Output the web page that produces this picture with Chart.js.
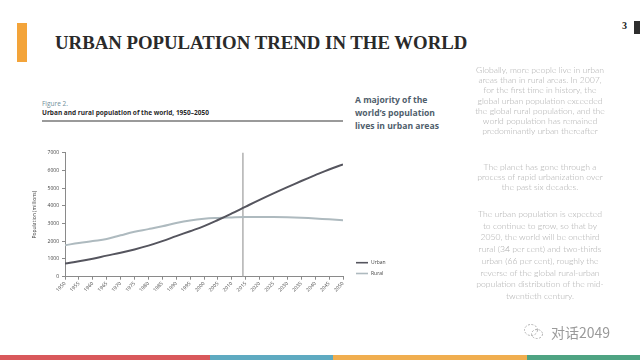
<!DOCTYPE html>
<html>
<head>
<meta charset="utf-8">
<script src="https://cdn.jsdelivr.net/npm/chart.js@4/dist/chart.umd.min.js"></script>
<style>
  html,body{margin:0;padding:0;background:#fff;}
  #page{position:relative;width:640px;height:360px;overflow:hidden;background:#fff;font-family:"Open Sans","Noto Sans",sans-serif;}
  .abs{position:absolute;white-space:nowrap;}
  #chart{position:absolute;left:0;top:0;}
  .para{position:absolute;left:460px;width:160px;text-align:center;color:#adadad;font-family:"Lato","DejaVu Sans",sans-serif;font-weight:300;font-size:8.6px;}
</style>
</head>
<body>
<div id="page">
  <div class="abs" style="left:17px;top:23px;width:10px;height:39px;background:#f3a43a;"></div>
  <div class="abs" id="title" style="left:55px;top:33px;font-family:'Liberation Serif','Times New Roman',serif;font-weight:bold;font-size:18.8px;line-height:20px;color:#2a2a2a;">URBAN POPULATION TREND IN THE WORLD</div>
  <div class="abs" style="left:622px;top:20px;font-family:'Liberation Serif',serif;font-weight:bold;font-size:10px;line-height:12px;color:#222;">3</div>
  <div class="abs" style="left:634px;top:21px;width:6px;height:13px;background:#2e2e2e;"></div>

  <div class="abs" style="left:42px;top:100px;font-size:6.5px;line-height:8px;color:#6f8e99;">Figure 2.</div>
  <div class="abs" style="left:42px;top:109px;font-size:6.5px;line-height:8px;font-weight:bold;color:#2a2a2a;">Urban and rural population of the world, 1950–2050</div>
  <div class="abs" style="left:42px;top:120px;width:301px;height:2px;background:#9a9a9a;"></div>

  <div class="abs" style="left:355px;top:94px;font-size:8.6px;line-height:12.8px;font-weight:bold;color:#4f5e6c;">A majority of the<br>world’s population<br>lives in urban areas</div>

  <canvas id="chart" width="640" height="360"></canvas>

  <div class="para" style="top:65px;line-height:10.2px;">Globally, more people live in urban<br>areas than in rural areas. In 2007,<br>for the first time in history, the<br>global urban population exceeded<br>the global rural population, and the<br>world population has remained<br>predominantly urban thereafter</div>
  <div class="para" style="top:162px;line-height:10.2px;">The planet has gone through a<br>process of rapid urbanization over<br>the past six decades.</div>
  <div class="para" style="top:209px;line-height:11.7px;">The urban population is expected<br>to continue to grow, so that by<br>2050, the world will be onethird<br>rural (34 per cent) and two-thirds<br>urban (66 per cent), roughly the<br>reverse of the global rural-urban<br>population distribution of the mid-<br>twentieth century.</div>

  <svg class="abs" style="left:523px;top:322px;" width="22" height="20" viewBox="0 0 22 20">
    <ellipse cx="8" cy="8" rx="6.5" ry="5.5" fill="none" stroke="#b0b0b0" stroke-width="1" stroke-dasharray="2 1.5"/>
    <ellipse cx="14" cy="12" rx="5.5" ry="4.5" fill="none" stroke="#b0b0b0" stroke-width="1" stroke-dasharray="2 1.5"/>
  </svg>
  <div class="abs" style="left:551px;top:323px;font-family:'Noto Sans CJK SC',sans-serif;font-size:14px;line-height:18px;color:#9a9a9a;">对话2049</div>

  <div class="abs" style="left:0;top:355px;width:210px;height:5px;background:#d9585b;"></div>
  <div class="abs" style="left:210px;top:355px;width:123px;height:5px;background:#5eaac1;"></div>
  <div class="abs" style="left:333px;top:355px;width:194px;height:5px;background:#f0ae4f;"></div>
  <div class="abs" style="left:527px;top:355px;width:113px;height:5px;background:#4ea382;"></div>
</div>
<script>
// ---- data ----
const years = [1950,1955,1960,1965,1970,1975,1980,1985,1990,1995,2000,2005,2010,2015,2020,2025,2030,2035,2040,2045,2050];
const urban = [746,872,1019,1190,1354,1539,1754,2008,2290,2569,2857,3201,3571,3957,4338,4705,5058,5400,5732,6053,6339];
const rural = [1779,1903,2013,2130,2337,2535,2685,2844,3028,3174,3270,3317,3345,3367,3372,3371,3355,3326,3285,3237,3187];
const yTicks = [0,1000,2000,3000,4000,5000,6000,7000];
const markerYear = 2014;
const seriesNames = ['Urban','Rural'];

const tickFont = {family:"'Open Sans','Noto Sans',sans-serif", size:5};

const markerPlugin = {
  id:'marker',
  beforeDatasetsDraw(chart){
    const {ctx, chartArea, scales} = chart;
    const x = scales.x.getPixelForValue(markerYear);
    ctx.save();
    ctx.strokeStyle = '#a3a3a3';
    ctx.lineWidth = 1.3;
    ctx.beginPath();
    ctx.moveTo(x, chartArea.top);
    ctx.lineTo(x, chartArea.bottom);
    ctx.stroke();
    ctx.restore();
  }
};

const legendPlugin = {
  id:'sideLegend',
  afterDraw(chart){
    const {ctx, chartArea} = chart;
    ctx.save();
    ctx.font = "5px 'Open Sans','Noto Sans',sans-serif";
    ctx.textBaseline = 'middle';
    chart.data.datasets.forEach((ds,i)=>{
      const y = chartArea.bottom - 14 + i*10.8;
      const x0 = chartArea.right + 13;
      ctx.strokeStyle = ds.borderColor;
      ctx.lineWidth = 1.6;
      ctx.beginPath();
      ctx.moveTo(x0, y);
      ctx.lineTo(x0 + 12, y);
      ctx.stroke();
      ctx.fillStyle = '#444';
      ctx.fillText(ds.label, x0 + 15, y);
    });
    ctx.restore();
  }
};

new Chart(document.getElementById('chart'), {
  type:'line',
  data:{
    datasets:[
      {label:seriesNames[0], data:years.map((y,i)=>({x:y,y:urban[i]})), borderColor:'#55555e', borderWidth:2, pointRadius:0, tension:0.4, fill:false},
      {label:seriesNames[1], data:years.map((y,i)=>({x:y,y:rural[i]})), borderColor:'#aebabf', borderWidth:2, pointRadius:0, tension:0.4, fill:false}
    ]
  },
  options:{
    responsive:false,
    animation:false,
    events:[],
    layout:{padding:{left:30, top:152.7, right:297, bottom:63.3}},
    plugins:{legend:{display:false}, tooltip:{enabled:false}, title:{display:false}},
    scales:{
      x:{
        type:'linear', min:1950, max:2050,
        afterBuildTicks(scale){ scale.ticks = years.map(v=>({value:v})); },
        afterFit(scale){ scale.height = 20; },
        grid:{display:true, drawOnChartArea:false, drawTicks:true, tickLength:3, color:'#8a8a8a'},
        border:{display:true, color:'#8a8a8a', width:1},
        ticks:{font:tickFont, color:'#444', minRotation:45, maxRotation:45, padding:1, autoSkip:false, callback:v=>String(v)}
      },
      y:{
        min:0, max:7000,
        afterBuildTicks(scale){ scale.ticks = yTicks.map(v=>({value:v})); },
        afterFit(scale){ scale.width = 35; },
        grid:{display:true, drawOnChartArea:false, drawTicks:true, tickLength:3, color:'#8a8a8a'},
        border:{display:true, color:'#8a8a8a', width:1},
        ticks:{font:tickFont, color:'#444', padding:3, callback:v=>String(v)},
        title:{display:true, text:'Population (millions)', font:tickFont, color:'#444', padding:{top:2,bottom:0}}
      }
    }
  },
  plugins:[markerPlugin, legendPlugin]
});
</script>
</body>
</html>
